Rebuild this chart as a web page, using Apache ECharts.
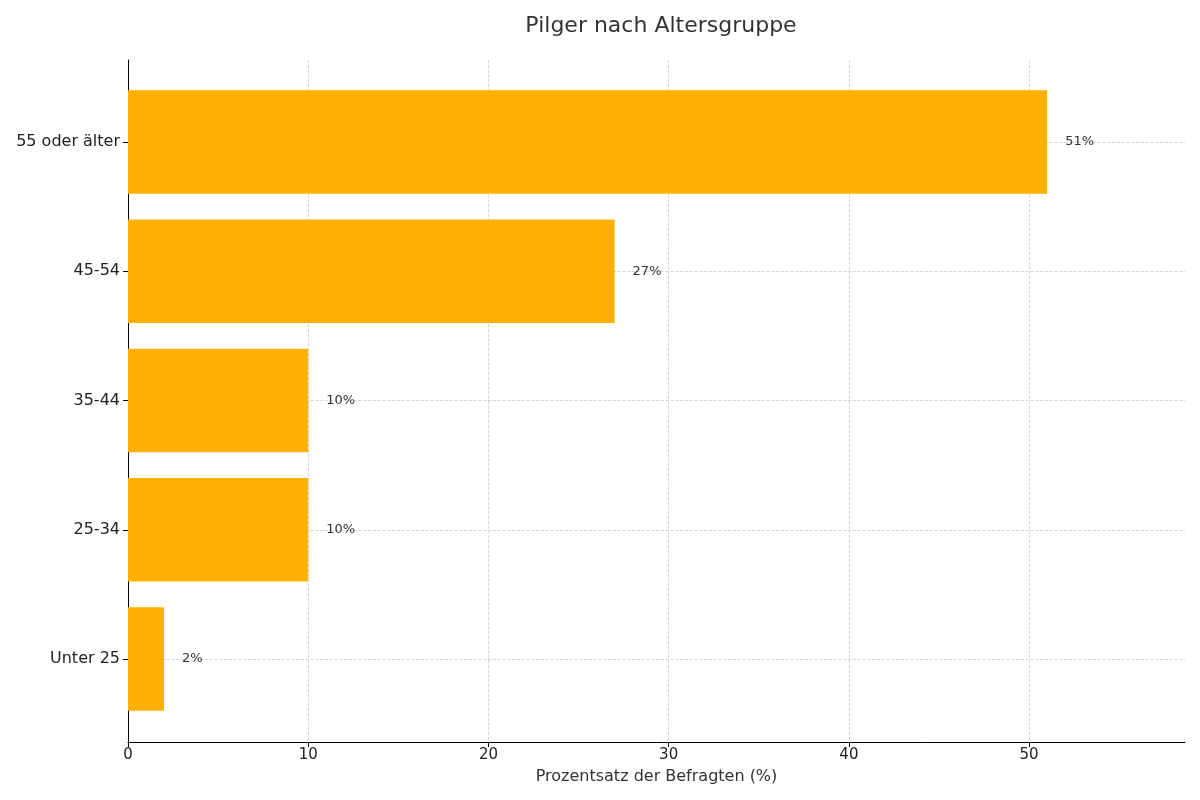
<!DOCTYPE html>
<html>
<head>
<meta charset="utf-8">
<script src="https://cdn.jsdelivr.net/npm/echarts@6/dist/echarts.min.js"></script>
<style>
  html, body { margin: 0; padding: 0; background: #fff; }
  #chart { width: 1200px; height: 800px; }
</style>
</head>
<body>
<div id="chart"></div>
<script>
// Daten
var ageGroups = ['Unter 25', '25-34', '35-44', '45-54', '55 oder älter'];
var shares = [2, 10, 10, 27, 51];
var xTicks = [0, 10, 20, 30, 40, 50];

var chart = echarts.init(document.getElementById('chart'));
var font = 'DejaVu Sans';

var option = {
    backgroundColor: '#ffffff',
    animation: false,
    title: {
        text: 'Pilger nach Altersgruppe',
        left: 656, textAlign: 'center', top: 10,
        textStyle: { fontFamily: font, fontSize: 22, fontWeight: 'normal', color: '#333333' }
    },
    grid: [
        // Rahmen / x-Achse
        { left: 128, right: 15, top: 60, bottom: 58 },
        // Kategorien
        { left: 128, right: 15, top: 142, bottom: 141 }
    ],
    xAxis: [
        {
            gridIndex: 0, type: 'value', min: 0, max: 58.65, interval: 10,
            name: 'Prozentsatz der Befragten (%)', nameLocation: 'middle', nameGap: 27,
            nameTextStyle: { fontFamily: font, fontSize: 16, color: '#333333' },
            axisLine: { show: true, lineStyle: { color: '#000', width: 1 } },
            axisTick: { show: true, length: 5, lineStyle: { color: '#000' } },
            axisLabel: {
                fontFamily: font, fontSize: 15, color: '#222', margin: 6,
                showMaxLabel: false,
                formatter: function (v) { return xTicks.indexOf(v) >= 0 ? String(v) : ''; }
            },
            splitLine: {
                show: true, showMaxLine: false,
                lineStyle: { color: '#cccccc', type: 'dashed', width: 0.8 }
            }
        },
        {
            gridIndex: 1, type: 'value', min: 0, max: 58.65, show: false
        }
    ],
    yAxis: [
        {
            gridIndex: 0, type: 'value', min: 0, max: 1,
            axisLine: { show: true, lineStyle: { color: '#000', width: 1 } },
            axisTick: { show: false }, axisLabel: { show: false }, splitLine: { show: false }
        },
        {
            gridIndex: 1, type: 'category', data: ageGroups, boundaryGap: false,
            axisLine: { show: false },
            axisTick: { show: true, length: 5, lineStyle: { color: '#000' } },
            axisLabel: { fontFamily: font, fontSize: 16, color: '#222', margin: 8 },
            splitLine: { show: true, lineStyle: { color: '#cccccc', type: 'dashed', width: 0.8 } }
        }
    ],
    series: [
        {
            type: 'bar', xAxisIndex: 1, yAxisIndex: 1,
            data: shares, barWidth: '80%', clip: false,
            itemStyle: { color: '#FFB000' },
            label: {
                show: true, position: 'right', distance: 18,
                formatter: '{c}%',
                fontFamily: font, fontSize: 13, color: '#333333'
            }
        }
    ]
};
chart.setOption(option);
</script>
</body>
</html>
